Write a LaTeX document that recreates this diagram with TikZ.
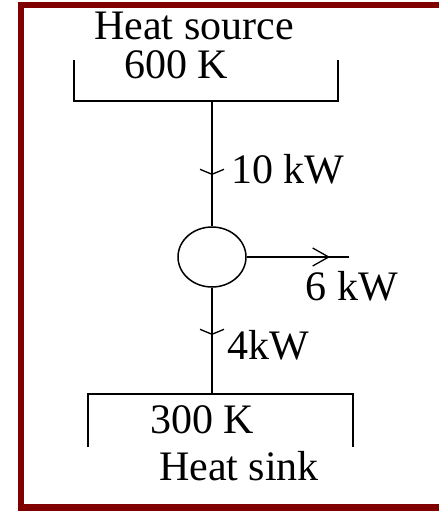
\documentclass[tikz,border=0pt]{standalone}
\usepackage{fontspec}
\setmainfont{Liberation Serif}
\usetikzlibrary{arrows.meta,shapes.geometric}
\definecolor{framered}{RGB}{128,0,0}
\tikzset{
  wire/.style={line width=1.6pt, black},
  vbarb/.style={wire, -{Straight Barb[length=5pt,width=24pt,line width=1.3pt]}},
  hbarb/.style={wire, -{Straight Barb[length=16pt,width=18pt,line width=1.3pt]}},
  lbl/.style={inner sep=0pt, anchor=base, font=\fontsize{42}{48}\selectfont},
  enginebox/.style={ellipse, draw, line width=1.5pt, minimum width=68pt, minimum height=60pt, inner sep=0pt},
  framebar/.style={fill=framered},
}
\begin{document}
\begin{tikzpicture}[x=1pt,y=-1pt]
\fill[white] (0,0) rectangle (439,511);
\useasboundingbox (0,0) rectangle (439,511);
% frame (its right side lies beyond the picture)
\fill[framebar] (18,2) rectangle (439,8.5);
\fill[framebar] (18,2) rectangle (24,511);
\fill[framebar] (18,504) rectangle (439,511);
% heat source bracket
\coordinate (srcTL) at (74,60);
\coordinate (srcBL) at (74,101);
\coordinate (srcBR) at (338,101);
\coordinate (srcTR) at (338,60);
\coordinate (src) at (212,101);
\draw[wire] (srcTL) -- (srcBL) -- (srcBR) -- (srcTR);
% heat sink bracket
\coordinate (snkBL) at (88,447);
\coordinate (snkTL) at (88,394);
\coordinate (snkTR) at (353,394);
\coordinate (snkBR) at (353,447);
\coordinate (snk) at (212,394);
\draw[wire] (snkBL) -- (snkTL) -- (snkTR) -- (snkBR);
% engine
\node[enginebox] (engine) at (212,257) {};
% connectors
\coordinate (tip10) at (212,175);
\coordinate (tip4) at (212,335);
\coordinate (out) at (349,257);
\coordinate (tip6) at (330,257);
\draw[wire] (src) -- (engine.north);
\draw[vbarb] (src) -- (tip10);
\draw[wire] (engine.south) -- (snk);
\draw[vbarb] (engine.south) -- (tip4);
\draw[wire] (engine.east) -- (out);
\draw[hbarb] (engine.east) -- (tip6);
% labels
\node[lbl] (tsrc) at (194,40) {Heat source};
\node[lbl] (tsrcT) at (176,78) {600 K};
\node[lbl] (t10) at (288,183) {10 kW};
\node[lbl] (t6) at (352,300) {6 kW};
\node[lbl] (t4) at (268,359) {4kW};
\node[lbl] (tsnkT) at (202,433) {300 K};
\node[lbl] (tsnk) at (239,480) {Heat sink};
\end{tikzpicture}
\end{document}
